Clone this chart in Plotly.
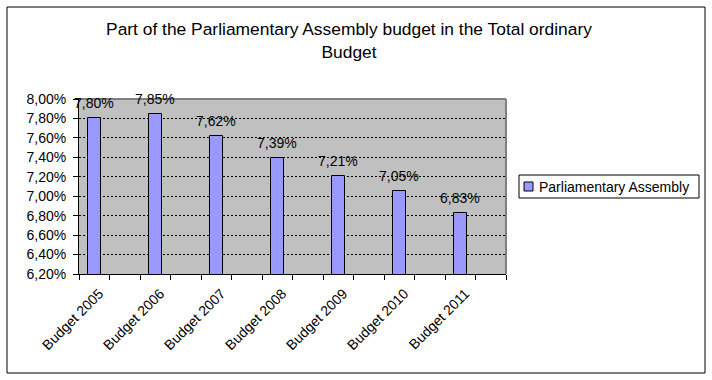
import plotly.graph_objects as go

categories = ["Budget 2005", "Budget 2006", "Budget 2007", "Budget 2008",
              "Budget 2009", "Budget 2010", "Budget 2011"]
values = [0.0780, 0.0785, 0.0762, 0.0739, 0.0721, 0.0705, 0.0683]
value_labels = ["7,80%", "7,85%", "7,62%", "7,39%", "7,21%", "7,05%", "6,83%"]
series_name = "Parliamentary Assembly"
title_text = "Part of the Parliamentary Assembly budget in the Total ordinary<br>Budget"

# Excel layout: every category followed by an empty slot (hidden second series)
padded = []
for i, c in enumerate(categories):
    padded.append(c)
    padded.append(" " * (i + 1))

FONT = "Arial, Liberation Sans, sans-serif"
FS = 14

fig = go.Figure()
fig.add_trace(go.Bar(
    x=categories, y=values, name=series_name,
    marker=dict(color="#9999FF", line=dict(color="black", width=1)),
    width=0.43, showlegend=False,
))
for c, v, t in zip(categories, values, value_labels):
    fig.add_annotation(x=c, y=v, text=t, showarrow=False, yanchor="bottom",
                       yshift=5, font=dict(family=FONT, size=FS, color="black"))

L, R, T, B = 79, 506, 99, 274
W, H = 712, 380
pw, ph = R - L, B - T

def px(x):
    return (x - L) / pw

def py(y):
    return (B - y) / ph

fig.update_layout(
    width=W, height=H,
    margin=dict(l=L, r=W - R, t=T, b=H - B, autoexpand=False),
    paper_bgcolor="white", plot_bgcolor="#C0C0C0",
    separators=",.",
    font=dict(family=FONT, size=FS, color="black"),
    title=dict(text=title_text, x=349 / W, xanchor="center", xref="container",
               y=1 - 35 / H, yanchor="top", yref="container", automargin=False,
               font=dict(family=FONT, size=17.4, color="black")),
    showlegend=False,
    bargap=0,
)
fig.update_xaxes(
    type="category", categoryorder="array", categoryarray=padded,
    range=[-0.5, len(padded) - 0.5], automargin=False,
    tickson="boundaries", ticks="outside", ticklen=5, tickcolor="black",
    showline=True, linecolor="black", linewidth=1, showgrid=False,
    tickangle=-45, tickfont=dict(family=FONT, size=FS, color="black"),
    ticklabelstandoff=5, ticklabelshift=5,
    fixedrange=True,
)
fig.update_yaxes(
    range=[0.062, 0.080], dtick=0.002, tick0=0.062, tickformat=".2%",
    ticks="outside", ticklen=5, tickcolor="black", automargin=False,
    showline=True, linecolor="black", linewidth=1,
    showgrid=True, gridcolor="black", griddash="2px,2px", gridwidth=1,
    zeroline=False, ticklabelstandoff=4,
    tickfont=dict(family=FONT, size=FS, color="black"),
)
# plot-area border (top/right gray)
fig.add_shape(type="line", xref="paper", yref="paper", x0=0, x1=1, y0=1, y1=1,
              line=dict(color="#808080", width=2), layer="above")
fig.add_shape(type="line", xref="paper", yref="paper", x0=1, x1=1, y0=0, y1=1,
              line=dict(color="#808080", width=2), layer="above")
# chart frame
fig.add_shape(type="rect", xref="paper", yref="paper",
              x0=px(7), x1=px(705), y0=py(373), y1=py(7),
              line=dict(color="black", width=1), fillcolor="rgba(0,0,0,0)")
# legend (Excel style)
fig.add_shape(type="rect", xref="paper", yref="paper",
              x0=px(519), x1=px(699), y0=py(198), y1=py(175),
              line=dict(color="black", width=1), fillcolor="white")
fig.add_shape(type="rect", xref="paper", yref="paper",
              x0=px(524), x1=px(533), y0=py(191), y1=py(182),
              line=dict(color="black", width=1), fillcolor="#9999FF")
fig.add_annotation(xref="paper", yref="paper", x=px(537), y=py(186.5),
                   xanchor="left", yanchor="middle", showarrow=False,
                   text=series_name, font=dict(family=FONT, size=FS, color="black"))

fig.write_html("out.html", config={"displayModeBar": False},
               post_script="document.body.style.margin='0';document.body.style.overflow='hidden';")
